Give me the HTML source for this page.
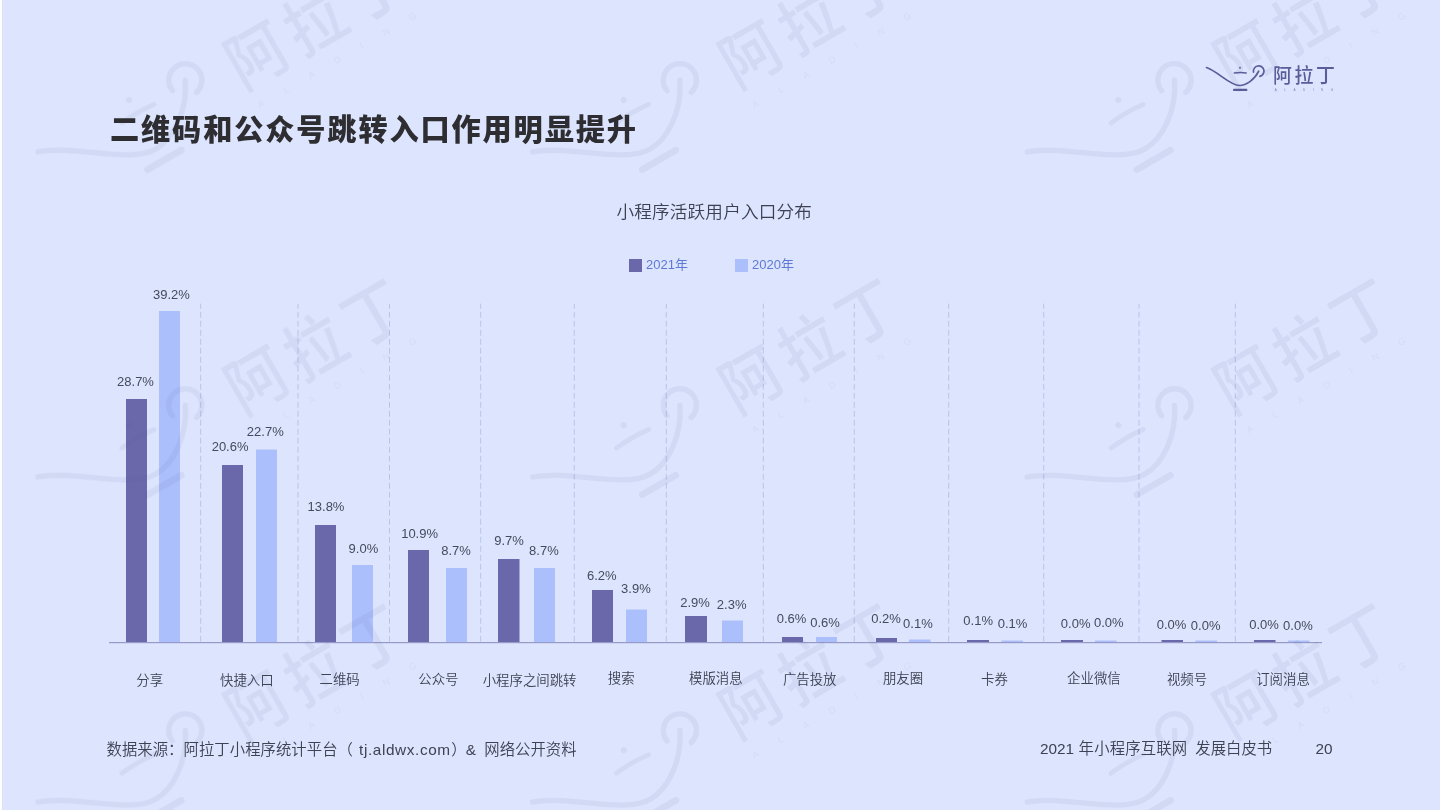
<!DOCTYPE html>
<html lang="zh-CN">
<head>
<meta charset="utf-8">
<title>二维码和公众号跳转入口作用明显提升</title>
<style>
html,body{margin:0;padding:0;}
body{width:1440px;height:810px;overflow:hidden;background:#dde4fd;position:relative;
  font-family:"Liberation Sans","Noto Sans CJK SC",sans-serif;color:#43475a;}
.edge{position:absolute;left:0;top:0;width:2px;height:810px;background:#fdfeff;}
.edge2{position:absolute;left:2px;top:0;width:1px;height:810px;background:#dcdff1;}
.edge3{position:absolute;left:3px;top:0;width:2px;height:810px;background:#e1e6fc;}
svg.layer{position:absolute;left:0;top:0;width:1440px;height:810px;overflow:hidden;}
.t{position:absolute;white-space:nowrap;line-height:1;transform:translate(-50%,-50%);}
.title{position:absolute;left:110px;top:113.2px;font-size:29.2px;font-weight:900;letter-spacing:1.86px;color:#2d2d32;
  line-height:34px;white-space:nowrap;}
.ctitle{position:absolute;left:616.5px;top:201px;font-size:17.6px;letter-spacing:0.18px;font-weight:350;color:#3c4052;line-height:22px;white-space:nowrap;}
.leg{position:absolute;font-size:13px;color:#5d7ad6;line-height:16px;white-space:nowrap;}
.val{font-size:13px;color:#454a5c;}
.cat{font-size:13.4px;font-weight:350;color:#3e4253;}
.fs{position:absolute;top:0;}
.foot{position:absolute;font-size:15.35px;font-weight:350;color:#3e4253;line-height:20px;white-space:nowrap;}
</style>
</head>
<body>

<svg class="layer" viewBox="0 0 1440 810" width="1440" height="810">
<defs>
<g id="lamp" fill="none" stroke="currentColor" stroke-linecap="round" stroke-linejoin="round">
  <path d="M6.5 7.5 C18 11.5 30 25.5 39.5 25.5 C46 25.5 54.5 20 58.7 11.2" stroke-width="1.7"/>
  <path d="M53.47 12.03 A5.3 5.3 0 1 1 59.89 16.36" stroke-width="1.7"/>
  <path d="M34.3 12.9 Q40.3 12.2 46.2 12.9" stroke-width="1.5"/>
  <circle cx="40" cy="7.7" r="0.95" fill="currentColor" stroke="none"/>
  <path d="M34 29.9 L46.4 29.9" stroke-width="2.1"/>
</g>
</defs>
<g color="#5b5c9a"><g transform="translate(1200 60)"><use href="#lamp"/><g fill="currentColor" font-family="'Liberation Sans','Noto Sans CJK SC',sans-serif"><text transform="translate(73 23) scale(0.945 1.02)" font-size="20" font-weight="500" letter-spacing="2.75">阿拉丁</text><text x="74.8" y="30.9" font-size="3" letter-spacing="7.5" font-weight="400" opacity="0.75">ALADING</text></g></g></g>
<line x1="200.7" y1="303.7" x2="200.7" y2="642" stroke="#b0bae6" stroke-width="0.8" stroke-dasharray="5.8 3.2" stroke-dashoffset="0.85"/>
<line x1="298" y1="303.7" x2="298" y2="642" stroke="#b0bae6" stroke-width="0.8" stroke-dasharray="5.8 3.2" stroke-dashoffset="0.85"/>
<line x1="389.5" y1="303.7" x2="389.5" y2="642" stroke="#b0bae6" stroke-width="0.8" stroke-dasharray="5.8 3.2" stroke-dashoffset="0.85"/>
<line x1="480.7" y1="303.7" x2="480.7" y2="642" stroke="#b0bae6" stroke-width="0.8" stroke-dasharray="5.8 3.2" stroke-dashoffset="0.85"/>
<line x1="574.3" y1="303.7" x2="574.3" y2="642" stroke="#b0bae6" stroke-width="0.8" stroke-dasharray="5.8 3.2" stroke-dashoffset="0.85"/>
<line x1="666.3" y1="303.7" x2="666.3" y2="642" stroke="#b0bae6" stroke-width="0.8" stroke-dasharray="5.8 3.2" stroke-dashoffset="0.85"/>
<line x1="763.3" y1="303.7" x2="763.3" y2="642" stroke="#b0bae6" stroke-width="0.8" stroke-dasharray="5.8 3.2" stroke-dashoffset="0.85"/>
<line x1="854.3" y1="303.7" x2="854.3" y2="642" stroke="#b0bae6" stroke-width="0.8" stroke-dasharray="5.8 3.2" stroke-dashoffset="0.85"/>
<line x1="948.7" y1="303.7" x2="948.7" y2="642" stroke="#b0bae6" stroke-width="0.8" stroke-dasharray="5.8 3.2" stroke-dashoffset="0.85"/>
<line x1="1043.7" y1="303.7" x2="1043.7" y2="642" stroke="#b0bae6" stroke-width="0.8" stroke-dasharray="5.8 3.2" stroke-dashoffset="0.85"/>
<line x1="1139" y1="303.7" x2="1139" y2="642" stroke="#b0bae6" stroke-width="0.8" stroke-dasharray="5.8 3.2" stroke-dashoffset="0.85"/>
<line x1="1235.3" y1="303.7" x2="1235.3" y2="642" stroke="#b0bae6" stroke-width="0.8" stroke-dasharray="5.8 3.2" stroke-dashoffset="0.85"/>
<rect x="126" y="399" width="21" height="243" fill="#6a68ab"/>
<rect x="222" y="465" width="21" height="177" fill="#6a68ab"/>
<rect x="315" y="525" width="21" height="117" fill="#6a68ab"/>
<rect x="408" y="550" width="21" height="92" fill="#6a68ab"/>
<rect x="498" y="559" width="21.5" height="83" fill="#6a68ab"/>
<rect x="592" y="590" width="21" height="52" fill="#6a68ab"/>
<rect x="685" y="616" width="22" height="26" fill="#6a68ab"/>
<rect x="782" y="637" width="21" height="5" fill="#6a68ab"/>
<rect x="876" y="638" width="21" height="4" fill="#6a68ab"/>
<rect x="967" y="640" width="22" height="2" fill="#6a68ab"/>
<rect x="1061" y="640" width="22" height="2" fill="#6a68ab"/>
<rect x="1161.5" y="640" width="21.5" height="2" fill="#6a68ab"/>
<rect x="1254" y="640" width="21.5" height="2" fill="#6a68ab"/>
<rect x="159" y="311" width="21" height="331" fill="#abbffc"/>
<rect x="256" y="449.5" width="21" height="192.5" fill="#abbffc"/>
<rect x="352" y="565" width="21" height="77" fill="#abbffc"/>
<rect x="446" y="568" width="21" height="74" fill="#abbffc"/>
<rect x="534" y="568" width="21" height="74" fill="#abbffc"/>
<rect x="626" y="609.5" width="21" height="32.5" fill="#abbffc"/>
<rect x="722" y="620.5" width="21" height="21.5" fill="#abbffc"/>
<rect x="816" y="637" width="21" height="5" fill="#abbffc"/>
<rect x="909" y="639.5" width="21.5" height="2.5" fill="#abbffc"/>
<rect x="1001.5" y="640.5" width="21.5" height="1.5" fill="#abbffc"/>
<rect x="1095" y="640.5" width="21.5" height="1.5" fill="#abbffc"/>
<rect x="1195.5" y="640.5" width="21.5" height="1.5" fill="#abbffc"/>
<rect x="1288" y="640.5" width="21.5" height="1.5" fill="#abbffc"/>
<rect x="109" y="642" width="1213" height="1.2" fill="#9799c6"/>
<g color="#4d5892" opacity="0.075">
<g transform="translate(38 151.9) rotate(-30) scale(3.13) translate(-6.5 -7.5)"><use href="#lamp"/><g fill="currentColor" font-family="'Liberation Sans','Noto Sans CJK SC',sans-serif"><text transform="translate(73 23) scale(0.945 1.02)" font-size="20" font-weight="500" letter-spacing="2.75">阿拉丁</text><text x="74.8" y="30.9" font-size="3" letter-spacing="7.5" font-weight="400" opacity="0.75">ALADING</text></g></g>
<g transform="translate(532.6 151.9) rotate(-30) scale(3.13) translate(-6.5 -7.5)"><use href="#lamp"/><g fill="currentColor" font-family="'Liberation Sans','Noto Sans CJK SC',sans-serif"><text transform="translate(73 23) scale(0.945 1.02)" font-size="20" font-weight="500" letter-spacing="2.75">阿拉丁</text><text x="74.8" y="30.9" font-size="3" letter-spacing="7.5" font-weight="400" opacity="0.75">ALADING</text></g></g>
<g transform="translate(1027.2 151.9) rotate(-30) scale(3.13) translate(-6.5 -7.5)"><use href="#lamp"/><g fill="currentColor" font-family="'Liberation Sans','Noto Sans CJK SC',sans-serif"><text transform="translate(73 23) scale(0.945 1.02)" font-size="20" font-weight="500" letter-spacing="2.75">阿拉丁</text><text x="74.8" y="30.9" font-size="3" letter-spacing="7.5" font-weight="400" opacity="0.75">ALADING</text></g></g>
<g transform="translate(38 477) rotate(-30) scale(3.13) translate(-6.5 -7.5)"><use href="#lamp"/><g fill="currentColor" font-family="'Liberation Sans','Noto Sans CJK SC',sans-serif"><text transform="translate(73 23) scale(0.945 1.02)" font-size="20" font-weight="500" letter-spacing="2.75">阿拉丁</text><text x="74.8" y="30.9" font-size="3" letter-spacing="7.5" font-weight="400" opacity="0.75">ALADING</text></g></g>
<g transform="translate(532.6 477) rotate(-30) scale(3.13) translate(-6.5 -7.5)"><use href="#lamp"/><g fill="currentColor" font-family="'Liberation Sans','Noto Sans CJK SC',sans-serif"><text transform="translate(73 23) scale(0.945 1.02)" font-size="20" font-weight="500" letter-spacing="2.75">阿拉丁</text><text x="74.8" y="30.9" font-size="3" letter-spacing="7.5" font-weight="400" opacity="0.75">ALADING</text></g></g>
<g transform="translate(1027.2 477) rotate(-30) scale(3.13) translate(-6.5 -7.5)"><use href="#lamp"/><g fill="currentColor" font-family="'Liberation Sans','Noto Sans CJK SC',sans-serif"><text transform="translate(73 23) scale(0.945 1.02)" font-size="20" font-weight="500" letter-spacing="2.75">阿拉丁</text><text x="74.8" y="30.9" font-size="3" letter-spacing="7.5" font-weight="400" opacity="0.75">ALADING</text></g></g>
<g transform="translate(38 802.1) rotate(-30) scale(3.13) translate(-6.5 -7.5)"><use href="#lamp"/><g fill="currentColor" font-family="'Liberation Sans','Noto Sans CJK SC',sans-serif"><text transform="translate(73 23) scale(0.945 1.02)" font-size="20" font-weight="500" letter-spacing="2.75">阿拉丁</text><text x="74.8" y="30.9" font-size="3" letter-spacing="7.5" font-weight="400" opacity="0.75">ALADING</text></g></g>
<g transform="translate(532.6 802.1) rotate(-30) scale(3.13) translate(-6.5 -7.5)"><use href="#lamp"/><g fill="currentColor" font-family="'Liberation Sans','Noto Sans CJK SC',sans-serif"><text transform="translate(73 23) scale(0.945 1.02)" font-size="20" font-weight="500" letter-spacing="2.75">阿拉丁</text><text x="74.8" y="30.9" font-size="3" letter-spacing="7.5" font-weight="400" opacity="0.75">ALADING</text></g></g>
<g transform="translate(1027.2 802.1) rotate(-30) scale(3.13) translate(-6.5 -7.5)"><use href="#lamp"/><g fill="currentColor" font-family="'Liberation Sans','Noto Sans CJK SC',sans-serif"><text transform="translate(73 23) scale(0.945 1.02)" font-size="20" font-weight="500" letter-spacing="2.75">阿拉丁</text><text x="74.8" y="30.9" font-size="3" letter-spacing="7.5" font-weight="400" opacity="0.75">ALADING</text></g></g>
</g>
<rect x="629" y="259" width="13" height="13" fill="#6a68ab"/>
<rect x="735" y="259" width="13" height="13" fill="#abbffc"/>
</svg>
<div class="edge"></div><div class="edge2"></div><div class="edge3"></div>
<div class="title">二维码和公众号跳转入口作用明显提升</div>
<div class="ctitle">小程序活跃用户入口分布</div>
<div class="leg" style="left:646px;top:257px;">2021年</div>
<div class="leg" style="left:752px;top:257px;">2020年</div>
<div class="t val" style="left:135.5px;top:380.6px;">28.7%</div>
<div class="t val" style="left:230.1px;top:445.6px;">20.6%</div>
<div class="t val" style="left:326px;top:506px;">13.8%</div>
<div class="t val" style="left:419.6px;top:532.7px;">10.9%</div>
<div class="t val" style="left:509px;top:539.5px;">9.7%</div>
<div class="t val" style="left:601.8px;top:574.6px;">6.2%</div>
<div class="t val" style="left:695.1px;top:601.6px;">2.9%</div>
<div class="t val" style="left:791.6px;top:617.7px;">0.6%</div>
<div class="t val" style="left:886px;top:618.3px;">0.2%</div>
<div class="t val" style="left:978.2px;top:619.8px;">0.1%</div>
<div class="t val" style="left:1075.7px;top:622.5px;">0.0%</div>
<div class="t val" style="left:1171.5px;top:623.9px;">0.0%</div>
<div class="t val" style="left:1264px;top:623.9px;">0.0%</div>
<div class="t val" style="left:171.4px;top:294.1px;">39.2%</div>
<div class="t val" style="left:265.3px;top:430.9px;">22.7%</div>
<div class="t val" style="left:363.4px;top:547.9px;">9.0%</div>
<div class="t val" style="left:456px;top:549.7px;">8.7%</div>
<div class="t val" style="left:543.9px;top:549.7px;">8.7%</div>
<div class="t val" style="left:635.9px;top:587.7px;">3.9%</div>
<div class="t val" style="left:731.7px;top:603.8px;">2.3%</div>
<div class="t val" style="left:825px;top:621.7px;">0.6%</div>
<div class="t val" style="left:917.9px;top:623px;">0.1%</div>
<div class="t val" style="left:1012.5px;top:623.05px;">0.1%</div>
<div class="t val" style="left:1108.8px;top:621.7px;">0.0%</div>
<div class="t val" style="left:1205.7px;top:624.6px;">0.0%</div>
<div class="t val" style="left:1297.9px;top:624.6px;">0.0%</div>
<div class="t cat" style="left:149.7px;top:681px;">分享</div>
<div class="t cat" style="left:246.8px;top:680.5px;">快捷入口</div>
<div class="t cat" style="left:339.6px;top:680.4px;">二维码</div>
<div class="t cat" style="left:438.4px;top:680.3px;">公众号</div>
<div class="t cat" style="left:529.6px;top:681px;">小程序之间跳转</div>
<div class="t cat" style="left:621.2px;top:679.4px;">搜索</div>
<div class="t cat" style="left:715.8px;top:679.4px;">模版消息</div>
<div class="t cat" style="left:809.7px;top:680.3px;">广告投放</div>
<div class="t cat" style="left:903px;top:679.4px;">朋友圈</div>
<div class="t cat" style="left:994.4px;top:680.4px;">卡券</div>
<div class="t cat" style="left:1093.9px;top:679.2px;">企业微信</div>
<div class="t cat" style="left:1187px;top:680.4px;">视频号</div>
<div class="t cat" style="left:1283px;top:680px;">订阅消息</div>
<div class="foot" style="left:0;top:739.5px;width:700px;height:20px;"><span class="fs" style="left:106.5px;letter-spacing:0.06px">数据来源：阿拉丁小程序统计平台（</span><span class="fs" style="left:359.1px;letter-spacing:0.6px">tj.aldwx.com</span><span class="fs" style="left:451.3px">）</span><span class="fs" style="left:465.8px">&amp;</span><span class="fs" style="left:484.3px;letter-spacing:0.03px">网络公开资料</span></div>
<div class="foot" style="left:0;top:738.5px;width:1440px;height:20px;"><span class="fs" style="left:1040px">2021</span><span class="fs" style="left:1078.6px;letter-spacing:0.2px">年小程序互联网</span><span class="fs" style="left:1195.3px;letter-spacing:0.05px">发展白皮书</span></div>
<div class="foot" style="left:1315.5px;top:738.5px;">20</div>
</body>
</html>
